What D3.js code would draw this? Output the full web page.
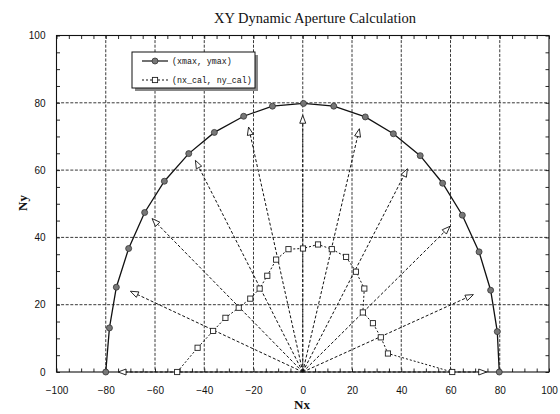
<!DOCTYPE html>
<html>
<head>
<meta charset="utf-8">
<script src="https://cdn.jsdelivr.net/npm/d3@7/dist/d3.min.js"></script>
<style>
  html, body { margin: 0; padding: 0; background: #fff; }
  svg { display: block; }
  .tick text { font-family: "Liberation Sans", Arial, sans-serif; font-size: 10px; fill: #111; }
</style>
</head>
<body>
<svg id="chart" width="560" height="414"></svg>
<script>
// Boundary points (xmax, ymax), ordered by angle from +x round to -x
const curveX = [-80, -78.5, -75.7, -70.7, -64.2, -56.2, -46.3, -35.9, -24.0, -12.3, 0.3,
                12.6, 25.4, 36.8, 47.7, 56.8, 64.8, 71.6, 76.3, 79.0, 79.8];
const curveY = [0, 13.1, 25.2, 36.7, 47.4, 56.7, 64.9, 71.2, 76.0, 79.0, 79.8,
                79.0, 75.8, 70.8, 64.3, 56.1, 46.6, 35.7, 24.3, 12.0, 0];

// Calculated points (nx_cal, ny_cal)
const calX = [-51, -42.7, -36.4, -31.4, -26.0, -21.3, -17.5, -14.4, -10.8, -5.8, 0.1,
              6.2, 11.8, 17.6, 21.6, 25.0, 24.4, 28.5, 31.7, 34.6, 60.7];
const calY = [0, 7.2, 12.2, 16.1, 19.1, 21.8, 24.8, 28.6, 33.4, 36.5, 36.7,
              37.9, 36.5, 34.2, 29.8, 24.8, 17.7, 14.5, 10.3, 5.5, 0];

// Direction arrows from the origin: tip coordinates
const arrowX = [-75, -70, -61.2, -43.6, -22, 0, 23, 42.5, 59.8, 69.3, 74.7];
const arrowY = [0, 24, 45.6, 62.9, 72.8, 76.3, 72.3, 60.4, 43.3, 23, 0];

const xTicks = [-100, -80, -60, -40, -20, 0, 20, 40, 60, 80, 100];
const yTicks = [0, 20, 40, 60, 80, 100];

const titleText = "XY Dynamic Aperture Calculation";
const xTitle = "Nx";
const yTitle = "Ny";
const legendLabels = ["(xmax, ymax)", "(nx_cal, ny_cal)"];

const svg = d3.select("#chart");
const L = 56.5, R = 549, T = 35.5, B = 372;

const x = d3.scaleLinear().domain([-100, 100]).range([L, R]);
const y = d3.scaleLinear().domain([0, 100]).range([B, T]);

const minorX = d3.range(-100, 100.01, 5);
const minorY = d3.range(0, 100.01, 5);

// grid
const grid = svg.append("g")
  .attr("stroke", "#222").attr("stroke-width", 0.9).attr("stroke-dasharray", "3,1.6");
grid.selectAll("line.v").data(xTicks.slice(1, -1)).join("line").attr("class", "v")
  .attr("x1", d => x(d)).attr("x2", d => x(d)).attr("y1", T).attr("y2", B);
grid.selectAll("line.h").data(yTicks.slice(1, -1)).join("line").attr("class", "h")
  .attr("x1", L).attr("x2", R).attr("y1", d => y(d)).attr("y2", d => y(d));

// axes with inward ticks every 5 units, labels every 20
const fmt = d => (d % 20 === 0 ? d3.format("")(d) : "");
const axB = svg.append("g").attr("transform", `translate(0,${B})`)
  .call(d3.axisBottom(x).tickValues(minorX).tickSize(-3.5).tickPadding(15).tickFormat(fmt));
const axL = svg.append("g").attr("transform", `translate(${L},0)`)
  .call(d3.axisLeft(y).tickValues(minorY).tickSize(-3.5).tickPadding(11).tickFormat(fmt));
const axT = svg.append("g").attr("transform", `translate(0,${T})`)
  .call(d3.axisTop(x).tickValues(minorX).tickSize(-3.5).tickFormat(""));
const axR = svg.append("g").attr("transform", `translate(${R},0)`)
  .call(d3.axisRight(y).tickValues(minorY).tickSize(-3.5).tickFormat(""));
[axB, axL, axT, axR].forEach(a => {
  a.select(".domain").remove();
  a.selectAll(".tick line").attr("stroke", "#111").attr("stroke-width", 0.9);
});

// frame
svg.append("rect").attr("x", L).attr("y", T).attr("width", R - L).attr("height", B - T)
  .attr("fill", "none").attr("stroke", "#111").attr("stroke-width", 1.1);

// arrows
const arrows = svg.append("g");
const ox = x(0), oy = y(0);
arrowX.forEach((ax, i) => {
  const tx = x(ax), ty = y(arrowY[i]);
  const dx = tx - ox, dy = ty - oy, len = Math.hypot(dx, dy);
  const ux = dx / len, uy = dy / len;
  const hl = 8, hw = 3;
  const bx = tx - ux * hl, by = ty - uy * hl;
  arrows.append("line")
    .attr("x1", ox).attr("y1", oy).attr("x2", bx).attr("y2", by)
    .attr("stroke", "#111").attr("stroke-width", 1).attr("stroke-dasharray", "3,2");
  arrows.append("path")
    .attr("d", `M${tx},${ty}L${bx - uy * hw},${by + ux * hw}L${bx + uy * hw},${by - ux * hw}Z`)
    .attr("fill", "#fff").attr("stroke", "#111").attr("stroke-width", 0.9);
});

// calculated series
const calPts = calX.map((v, i) => [v, calY[i]]);
svg.append("path").datum(calPts)
  .attr("d", d3.line().x(d => x(d[0])).y(d => y(d[1])))
  .attr("fill", "none").attr("stroke", "#111").attr("stroke-width", 1)
  .attr("stroke-dasharray", "2,2");
svg.append("g").selectAll("rect").data(calPts).join("rect")
  .attr("x", d => x(d[0]) - 2.6).attr("y", d => y(d[1]) - 2.6)
  .attr("width", 5.2).attr("height", 5.2)
  .attr("fill", "#fff").attr("stroke", "#222").attr("stroke-width", 0.9);

// boundary series
const curvePts = curveX.map((v, i) => [v, curveY[i]]);
svg.append("path").datum(curvePts)
  .attr("d", d3.line().x(d => x(d[0])).y(d => y(d[1])))
  .attr("fill", "none").attr("stroke", "#111").attr("stroke-width", 1.3);
svg.append("g").selectAll("circle").data(curvePts).join("circle")
  .attr("cx", d => x(d[0])).attr("cy", d => y(d[1])).attr("r", 3)
  .attr("fill", "#777").attr("stroke", "#333").attr("stroke-width", 0.8);

// legend
const lg = svg.append("g");
lg.append("rect").attr("x", 135).attr("y", 55).attr("width", 123).attr("height", 36).attr("fill", "#888");
lg.append("rect").attr("x", 132).attr("y", 52).attr("width", 123).attr("height", 36)
  .attr("fill", "#fff").attr("stroke", "#111").attr("stroke-width", 1);
lg.append("line").attr("x1", 142).attr("x2", 168).attr("y1", 61).attr("y2", 61)
  .attr("stroke", "#111").attr("stroke-width", 1.2);
lg.append("circle").attr("cx", 155).attr("cy", 61).attr("r", 3)
  .attr("fill", "#777").attr("stroke", "#333").attr("stroke-width", 0.8);
lg.append("line").attr("x1", 142).attr("x2", 168).attr("y1", 80).attr("y2", 80)
  .attr("stroke", "#111").attr("stroke-width", 1).attr("stroke-dasharray", "2,2");
lg.append("rect").attr("x", 152.4).attr("y", 77.4).attr("width", 5.2).attr("height", 5.2)
  .attr("fill", "#fff").attr("stroke", "#222").attr("stroke-width", 0.9);
lg.selectAll("text").data(legendLabels).join("text")
  .attr("x", 172).attr("y", (d, i) => 61 + i * 19).attr("dy", "0.35em")
  .attr("font-family", "'Liberation Mono', 'DejaVu Sans Mono', monospace")
  .attr("font-size", 8.3).attr("fill", "#111").text(d => d);

// titles
svg.append("text").attr("x", 315).attr("y", 23).attr("text-anchor", "middle")
  .attr("font-family", "'Liberation Serif', 'Times New Roman', serif")
  .attr("font-size", 14.5).attr("fill", "#111").text(titleText);
svg.append("text").attr("x", 302).attr("y", 409).attr("text-anchor", "middle")
  .attr("font-family", "'Liberation Serif', 'Times New Roman', serif")
  .attr("font-size", 13).attr("font-weight", "bold").attr("fill", "#111").text(xTitle);
svg.append("text").attr("transform", "translate(27,203) rotate(-90)").attr("text-anchor", "middle")
  .attr("font-family", "'Liberation Serif', 'Times New Roman', serif")
  .attr("font-size", 13).attr("font-weight", "bold").attr("fill", "#111").text(yTitle);
</script>
</body>
</html>
